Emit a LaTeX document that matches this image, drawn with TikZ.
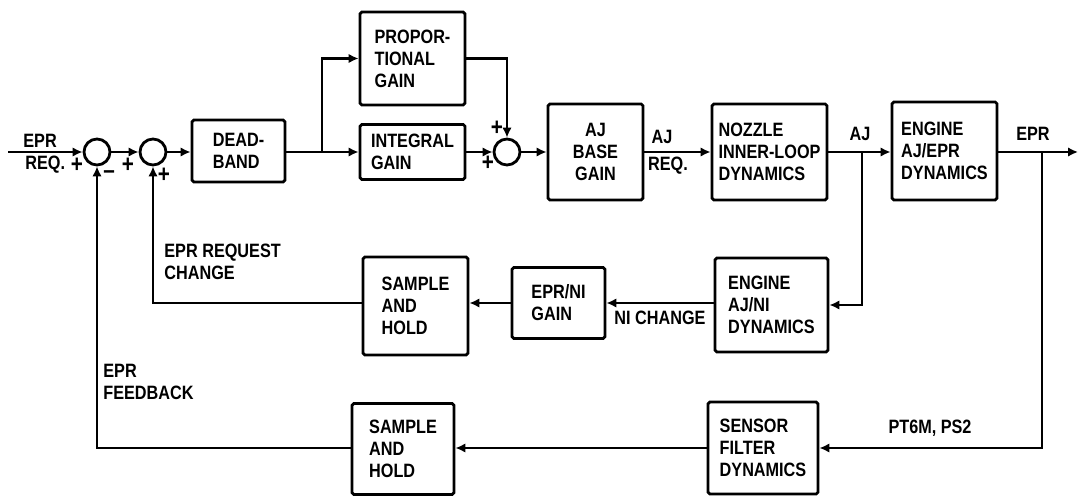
\documentclass[tikz,border=0pt]{standalone}
\usepackage{fontspec}
\setmainfont{Liberation Sans}[FakeStretch=0.84]
\usetikzlibrary{arrows.meta}
\begin{document}
\begin{tikzpicture}[x=0.02cm,y=-0.02cm,line width=1.6pt,>={Latex[length=2mm,width=1.9mm]},
  every node/.style={font=\bfseries\fontsize{11}{12.5}\selectfont},
  blk/.style={draw,rounded corners=1pt,align=left,inner sep=2pt},
  sum/.style={draw,circle,minimum size=0.52cm,inner sep=0pt},
  lbl/.style={align=left,inner sep=0pt},
  sgn/.style={inner sep=0pt,font=\bfseries\fontsize{14}{14}\selectfont}]
\useasboundingbox (0,0) rectangle (1081,496);
\coordinate (in) at (8,152);\coordinate (out) at (1078,152);
\coordinate (b1) at (322,152);\coordinate (b2) at (862,152);\coordinate (b3) at (1042,152);
\node[sum] (c1) at (97,152) {};
\node[sum] (c2) at (153,152) {};
\node[sum] (c3) at (507,152) {};
\node[blk,minimum width=1.86cm,minimum height=1.24cm] (db) at (238.5,151) {DEAD-\\BAND};
\node[blk,minimum width=2.1cm,minimum height=1.86cm] (pg) at (412.5,58.5) {PROPOR-\\TIONAL\\GAIN};
\node[blk,minimum width=2.1cm,minimum height=1.1cm] (ig) at (412.5,152) {INTEGRAL\\GAIN};
\node[blk,align=center,minimum width=1.9cm,minimum height=1.92cm] (bg) at (595.5,152) {AJ\\BASE\\GAIN};
\node[blk,minimum width=2.3cm,minimum height=1.92cm] (nz) at (769.5,152) {NOZZLE\\INNER-LOOP\\DYNAMICS};
\node[blk,minimum width=2.1cm,minimum height=1.96cm] (ee) at (944.5,151) {ENGINE\\AJ/EPR\\DYNAMICS};
\node[blk,minimum width=2.26cm,minimum height=1.88cm] (en) at (771.5,305) {ENGINE\\AJ/NI\\DYNAMICS};
\node[blk,minimum width=1.86cm,minimum height=1.42cm] (ng) at (558.5,303) {EPR/NI\\GAIN};
\node[blk,minimum width=2.1cm,minimum height=1.96cm] (s1) at (415.5,306) {SAMPLE\\AND\\HOLD};
\node[blk,minimum width=2.04cm,minimum height=1.82cm] (s2) at (403,449) {SAMPLE\\AND\\HOLD};
\node[blk,minimum width=2.2cm,minimum height=1.84cm] (sf) at (763,448) {SENSOR\\FILTER\\DYNAMICS};
\node[lbl,anchor=west] (t1) at (22,141) {EPR};\node[lbl,anchor=west] (t2) at (24,165) {REQ.};
\node[sgn] (p1) at (77,165) {+};\node[sgn] (m1) at (109,175) {--};
\node[sgn] (p2) at (128,165) {+};\node[sgn] (p3) at (164,175) {+};
\node[sgn] (p4) at (497,128) {+};\node[sgn] (p5) at (488,163) {+};
\node[lbl] (t3) at (662,137) {AJ};\node[lbl] (t4) at (668,166) {REQ.};
\node[lbl] (t5) at (860,134) {AJ};\node[lbl] (t6) at (1033,134) {EPR};
\node[lbl,anchor=north west] (t7) at (163,243) {EPR REQUEST\\CHANGE};
\node[lbl] (t8) at (660,318) {NI CHANGE};
\node[lbl,anchor=north west] (t9) at (102,363) {EPR\\FEEDBACK};
\node[lbl] (t10) at (930,428) {PT6M, PS2};
\draw[->] (in)--(c1);\draw[->] (c1)--(c2);\draw[->] (c2)--(db.west|-c2);
\draw[->] (db.east|-b1)--(ig.west|-b1);\draw[->] (b1)|-(pg);
\draw[->] (ig)--(c3);\draw[->] (pg)-|(c3);\draw[->] (c3)--(bg);
\draw[->] (bg)--(nz);\draw[->] (nz)--(ee.west|-nz);\draw[->] (ee.east|-out)--(out);
\draw[->] (b2)|-(en);\draw[->] (en.west|-ng)--(ng);\draw[->] (ng)--(s1.east|-ng);
\draw[->] (s1.west|-ng)-|(c2);
\draw[->] (b3)|-(sf);\draw[->] (sf)--(s2.east|-sf);\draw[->] (s2.west|-sf)-|(c1);
\end{tikzpicture}
\end{document}
